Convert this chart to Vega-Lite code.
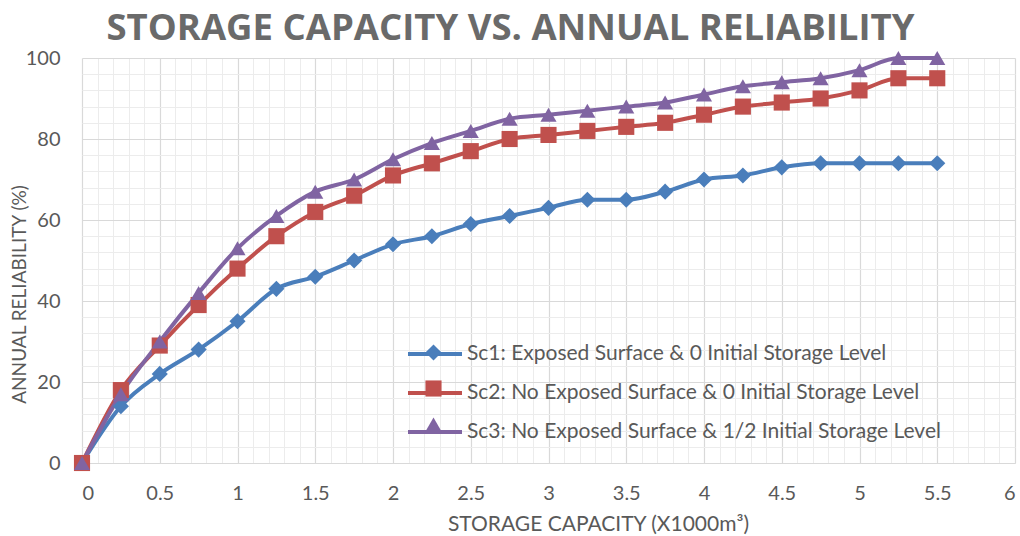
{
  "$schema": "https://vega.github.io/schema/vega-lite/v6.json",
  "autosize": {"type": "none"},
  "width": 933,
  "height": 405,
  "padding": {"left": 82, "top": 58, "right": 5, "bottom": 73},
  "background": "white",
  "title": {
    "text": "STORAGE CAPACITY VS. ANNUAL RELIABILITY",
    "font": "Open Sans",
    "fontSize": 36.5,
    "fontWeight": "bold",
    "color": "#6a6a6a",
    "anchor": "middle",
    "dx": -38,
    "offset": 1
  },
  "config": {
    "view": {"stroke": null},
    "axis": {
      "labelFont": "Lato",
      "titleFont": "Lato",
      "labelColor": "#595959",
      "titleColor": "#595959"
    },
    "legend": {"labelFont": "Lato"}
  },
  "data": {
    "values": [
      {"c": 0, "r": 0, "s": "Sc1: Exposed Surface & 0 Initial Storage Level"},
      {"c": 0.25, "r": 14, "s": "Sc1: Exposed Surface & 0 Initial Storage Level"},
      {"c": 0.5, "r": 22, "s": "Sc1: Exposed Surface & 0 Initial Storage Level"},
      {"c": 0.75, "r": 28, "s": "Sc1: Exposed Surface & 0 Initial Storage Level"},
      {"c": 1, "r": 35, "s": "Sc1: Exposed Surface & 0 Initial Storage Level"},
      {"c": 1.25, "r": 43, "s": "Sc1: Exposed Surface & 0 Initial Storage Level"},
      {"c": 1.5, "r": 46, "s": "Sc1: Exposed Surface & 0 Initial Storage Level"},
      {"c": 1.75, "r": 50, "s": "Sc1: Exposed Surface & 0 Initial Storage Level"},
      {"c": 2, "r": 54, "s": "Sc1: Exposed Surface & 0 Initial Storage Level"},
      {"c": 2.25, "r": 56, "s": "Sc1: Exposed Surface & 0 Initial Storage Level"},
      {"c": 2.5, "r": 59, "s": "Sc1: Exposed Surface & 0 Initial Storage Level"},
      {"c": 2.75, "r": 61, "s": "Sc1: Exposed Surface & 0 Initial Storage Level"},
      {"c": 3, "r": 63, "s": "Sc1: Exposed Surface & 0 Initial Storage Level"},
      {"c": 3.25, "r": 65, "s": "Sc1: Exposed Surface & 0 Initial Storage Level"},
      {"c": 3.5, "r": 65, "s": "Sc1: Exposed Surface & 0 Initial Storage Level"},
      {"c": 3.75, "r": 67, "s": "Sc1: Exposed Surface & 0 Initial Storage Level"},
      {"c": 4, "r": 70, "s": "Sc1: Exposed Surface & 0 Initial Storage Level"},
      {"c": 4.25, "r": 71, "s": "Sc1: Exposed Surface & 0 Initial Storage Level"},
      {"c": 4.5, "r": 73, "s": "Sc1: Exposed Surface & 0 Initial Storage Level"},
      {"c": 4.75, "r": 74, "s": "Sc1: Exposed Surface & 0 Initial Storage Level"},
      {"c": 5, "r": 74, "s": "Sc1: Exposed Surface & 0 Initial Storage Level"},
      {"c": 5.25, "r": 74, "s": "Sc1: Exposed Surface & 0 Initial Storage Level"},
      {"c": 5.5, "r": 74, "s": "Sc1: Exposed Surface & 0 Initial Storage Level"},
      {"c": 0, "r": 0, "s": "Sc2: No Exposed Surface & 0 Initial Storage Level"},
      {"c": 0.25, "r": 18, "s": "Sc2: No Exposed Surface & 0 Initial Storage Level"},
      {"c": 0.5, "r": 29, "s": "Sc2: No Exposed Surface & 0 Initial Storage Level"},
      {"c": 0.75, "r": 39, "s": "Sc2: No Exposed Surface & 0 Initial Storage Level"},
      {"c": 1, "r": 48, "s": "Sc2: No Exposed Surface & 0 Initial Storage Level"},
      {"c": 1.25, "r": 56, "s": "Sc2: No Exposed Surface & 0 Initial Storage Level"},
      {"c": 1.5, "r": 62, "s": "Sc2: No Exposed Surface & 0 Initial Storage Level"},
      {"c": 1.75, "r": 66, "s": "Sc2: No Exposed Surface & 0 Initial Storage Level"},
      {"c": 2, "r": 71, "s": "Sc2: No Exposed Surface & 0 Initial Storage Level"},
      {"c": 2.25, "r": 74, "s": "Sc2: No Exposed Surface & 0 Initial Storage Level"},
      {"c": 2.5, "r": 77, "s": "Sc2: No Exposed Surface & 0 Initial Storage Level"},
      {"c": 2.75, "r": 80, "s": "Sc2: No Exposed Surface & 0 Initial Storage Level"},
      {"c": 3, "r": 81, "s": "Sc2: No Exposed Surface & 0 Initial Storage Level"},
      {"c": 3.25, "r": 82, "s": "Sc2: No Exposed Surface & 0 Initial Storage Level"},
      {"c": 3.5, "r": 83, "s": "Sc2: No Exposed Surface & 0 Initial Storage Level"},
      {"c": 3.75, "r": 84, "s": "Sc2: No Exposed Surface & 0 Initial Storage Level"},
      {"c": 4, "r": 86, "s": "Sc2: No Exposed Surface & 0 Initial Storage Level"},
      {"c": 4.25, "r": 88, "s": "Sc2: No Exposed Surface & 0 Initial Storage Level"},
      {"c": 4.5, "r": 89, "s": "Sc2: No Exposed Surface & 0 Initial Storage Level"},
      {"c": 4.75, "r": 90, "s": "Sc2: No Exposed Surface & 0 Initial Storage Level"},
      {"c": 5, "r": 92, "s": "Sc2: No Exposed Surface & 0 Initial Storage Level"},
      {"c": 5.25, "r": 95, "s": "Sc2: No Exposed Surface & 0 Initial Storage Level"},
      {"c": 5.5, "r": 95, "s": "Sc2: No Exposed Surface & 0 Initial Storage Level"},
      {"c": 0, "r": 0, "s": "Sc3: No Exposed Surface & 1/2 Initial Storage Level"},
      {"c": 0.25, "r": 17, "s": "Sc3: No Exposed Surface & 1/2 Initial Storage Level"},
      {"c": 0.5, "r": 30, "s": "Sc3: No Exposed Surface & 1/2 Initial Storage Level"},
      {"c": 0.75, "r": 42, "s": "Sc3: No Exposed Surface & 1/2 Initial Storage Level"},
      {"c": 1, "r": 53, "s": "Sc3: No Exposed Surface & 1/2 Initial Storage Level"},
      {"c": 1.25, "r": 61, "s": "Sc3: No Exposed Surface & 1/2 Initial Storage Level"},
      {"c": 1.5, "r": 67, "s": "Sc3: No Exposed Surface & 1/2 Initial Storage Level"},
      {"c": 1.75, "r": 70, "s": "Sc3: No Exposed Surface & 1/2 Initial Storage Level"},
      {"c": 2, "r": 75, "s": "Sc3: No Exposed Surface & 1/2 Initial Storage Level"},
      {"c": 2.25, "r": 79, "s": "Sc3: No Exposed Surface & 1/2 Initial Storage Level"},
      {"c": 2.5, "r": 82, "s": "Sc3: No Exposed Surface & 1/2 Initial Storage Level"},
      {"c": 2.75, "r": 85, "s": "Sc3: No Exposed Surface & 1/2 Initial Storage Level"},
      {"c": 3, "r": 86, "s": "Sc3: No Exposed Surface & 1/2 Initial Storage Level"},
      {"c": 3.25, "r": 87, "s": "Sc3: No Exposed Surface & 1/2 Initial Storage Level"},
      {"c": 3.5, "r": 88, "s": "Sc3: No Exposed Surface & 1/2 Initial Storage Level"},
      {"c": 3.75, "r": 89, "s": "Sc3: No Exposed Surface & 1/2 Initial Storage Level"},
      {"c": 4, "r": 91, "s": "Sc3: No Exposed Surface & 1/2 Initial Storage Level"},
      {"c": 4.25, "r": 93, "s": "Sc3: No Exposed Surface & 1/2 Initial Storage Level"},
      {"c": 4.5, "r": 94, "s": "Sc3: No Exposed Surface & 1/2 Initial Storage Level"},
      {"c": 4.75, "r": 95, "s": "Sc3: No Exposed Surface & 1/2 Initial Storage Level"},
      {"c": 5, "r": 97, "s": "Sc3: No Exposed Surface & 1/2 Initial Storage Level"},
      {"c": 5.25, "r": 100, "s": "Sc3: No Exposed Surface & 1/2 Initial Storage Level"},
      {"c": 5.5, "r": 100, "s": "Sc3: No Exposed Surface & 1/2 Initial Storage Level"}
    ]
  },
  "resolve": {"axis": {"x": "independent", "y": "independent"}},
  "layer": [
    {
      "mark": {"type": "point", "opacity": 0},
      "encoding": {
        "x": {
          "field": "c", "type": "quantitative",
          "scale": {"domain": [0, 6], "nice": false, "zero": true},
          "axis": {
            "values": [0, 0.5, 1, 1.5, 2, 2.5, 3, 3.5, 4, 4.5, 5, 5.5, 6],
            "format": "~g",
            "grid": true, "gridColor": "#d9d9d9", "gridWidth": 1.2,
            "domain": true, "domainColor": "#d9d9d9", "domainWidth": 1.2,
            "ticks": false,
            "labelFontSize": 20, "labelPadding": 20,
            "title": "STORAGE CAPACITY (X1000m³)",
            "titleFontSize": 21, "titleFontWeight": "normal",
            "titleX": 516, "titleY": 67, "titleBaseline": "alphabetic",
            "zindex": 0
          }
        },
        "y": {
          "field": "r", "type": "quantitative",
          "scale": {"domain": [0, 100], "nice": false},
          "axis": {
            "values": [0, 20, 40, 60, 80, 100],
            "grid": true, "gridColor": "#d9d9d9", "gridWidth": 1.2,
            "domain": false,
            "ticks": false,
            "labelFontSize": 20, "labelPadding": 22,
            "title": "ANNUAL RELIABILITY (%)",
            "titleFontSize": 19, "titleFontWeight": "normal",
            "titleX": -57, "titleY": 236, "titleBaseline": "alphabetic", "titleAngle": -90, "titleAlign": "center",
            "zindex": 0
          }
        }
      }
    },
    {
      "mark": {"type": "point", "opacity": 0},
      "encoding": {
        "x": {
          "field": "c", "type": "quantitative",
          "axis": {
            "values": [0.1, 0.2, 0.3, 0.4, 0.6, 0.7, 0.8, 0.9, 1.1, 1.2, 1.3, 1.4, 1.6, 1.7, 1.8, 1.9, 2.1, 2.2, 2.3, 2.4, 2.6, 2.7, 2.8, 2.9, 3.1, 3.2, 3.3, 3.4, 3.6, 3.7, 3.8, 3.9, 4.1, 4.2, 4.3, 4.4, 4.6, 4.7, 4.8, 4.9, 5.1, 5.2, 5.3, 5.4, 5.6, 5.7, 5.8, 5.9],
            "grid": true, "gridColor": "#ececec", "gridWidth": 1,
            "domain": false, "ticks": false, "labels": false, "title": null,
            "zindex": 0
          }
        },
        "y": {
          "field": "r", "type": "quantitative",
          "axis": {
            "values": [4, 8, 12, 16, 24, 28, 32, 36, 44, 48, 52, 56, 64, 68, 72, 76, 84, 88, 92, 96],
            "grid": true, "gridColor": "#ececec", "gridWidth": 1,
            "domain": false, "ticks": false, "labels": false, "title": null,
            "zindex": 0
          }
        }
      }
    },
    {
      "mark": {"type": "line", "strokeWidth": 4, "interpolate": "monotone"},
      "encoding": {
        "x": {"field": "c", "type": "quantitative", "axis": null},
        "y": {"field": "r", "type": "quantitative", "axis": null},
        "color": {
          "field": "s", "type": "nominal",
          "scale": {"range": ["#4a7ebb", "#c0504d", "#8064a2"]},
          "legend": {
            "title": null,
            "orient": "none",
            "legendX": 324,
            "legendY": 267,
            "labelFontSize": 21,
            "labelColor": "#595959",
            "labelOffset": 3,
            "labelLimit": 800,
            "symbolType": "stroke",
            "symbolStrokeWidth": 4,
            "symbolSize": 2916,
            "rowPadding": -23
          }
        }
      }
    },
    {
      "mark": {"type": "point", "filled": true, "opacity": 1, "strokeWidth": 0},
      "encoding": {
        "x": {"field": "c", "type": "quantitative", "axis": null},
        "y": {"field": "r", "type": "quantitative", "axis": null},
        "fill": {
          "field": "s", "type": "nominal",
          "scale": {
            "domain": ["Sc1: Exposed Surface & 0 Initial Storage Level", "Sc2: No Exposed Surface & 0 Initial Storage Level", "Sc3: No Exposed Surface & 1/2 Initial Storage Level"],
            "range": ["#4a7ebb", "#c0504d", "#8064a2"]
          },
          "legend": {
            "title": null,
            "orient": "none",
            "legendX": 343,
            "legendY": 286,
            "labelFontSize": 1,
            "labelOpacity": 0,
            "labelLimit": 1,
            "symbolSize": 260,
            "symbolOpacity": 1,
            "symbolStrokeWidth": 0,
            "rowPadding": 19
          }
        },
        "shape": {
          "field": "s", "type": "nominal",
          "scale": {
            "domain": ["Sc1: Exposed Surface & 0 Initial Storage Level", "Sc2: No Exposed Surface & 0 Initial Storage Level", "Sc3: No Exposed Surface & 1/2 Initial Storage Level"],
            "range": ["diamond", "square", "triangle-up"]
          },
          "legend": {
            "title": null,
            "orient": "none",
            "legendX": 343,
            "legendY": 286,
            "labelFontSize": 1,
            "labelOpacity": 0,
            "labelLimit": 1,
            "symbolSize": 260,
            "symbolOpacity": 1,
            "symbolStrokeWidth": 0,
            "rowPadding": 19
          }
        },
        "size": {"value": 260}
      }
    }
  ]
}
